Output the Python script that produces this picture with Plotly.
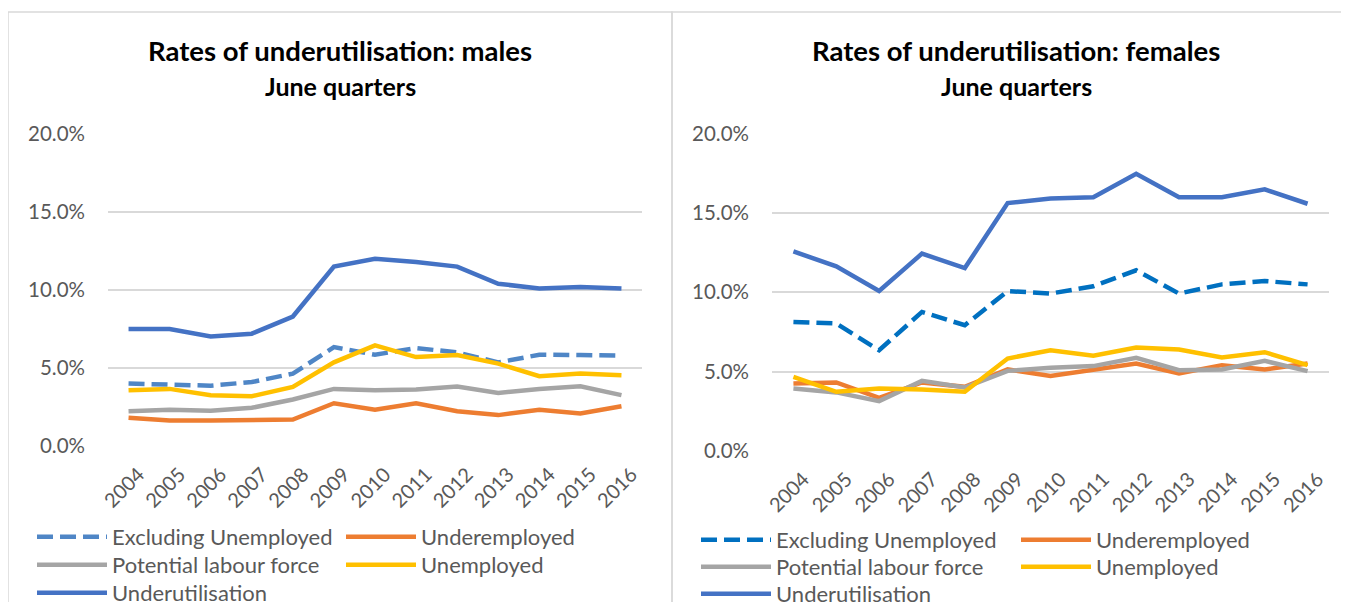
import plotly.graph_objects as go

years = [str(y) for y in range(2004, 2017)]

# Males (percent)
male_excl_unemp = [4.0, 3.94, 3.87, 4.1, 4.64, 6.34, 5.85, 6.28, 6.0, 5.36, 5.85, 5.83, 5.79]
male_underemployed = [1.81, 1.64, 1.64, 1.68, 1.7, 2.74, 2.32, 2.74, 2.23, 1.98, 2.32, 2.09, 2.55]
male_potential = [2.23, 2.32, 2.26, 2.45, 2.98, 3.66, 3.57, 3.62, 3.81, 3.4, 3.66, 3.83, 3.26]
male_unemployed = [3.57, 3.66, 3.26, 3.19, 3.79, 5.36, 6.45, 5.7, 5.83, 5.28, 4.47, 4.64, 4.53]
male_underutil = [7.5, 7.5, 7.02, 7.2, 8.3, 11.5, 12.0, 11.8, 11.5, 10.4, 10.1, 10.2, 10.1]

# Females (percent)
female_excl_unemp = [8.13, 8.03, 6.34, 8.76, 7.92, 10.08, 9.92, 10.38, 11.39, 9.92, 10.5, 10.71, 10.5]
female_underemployed = [4.24, 4.31, 3.34, 4.31, 4.03, 5.13, 4.71, 5.08, 5.5, 4.87, 5.4, 5.13, 5.5]
female_potential = [3.93, 3.68, 3.13, 4.41, 3.99, 5.04, 5.23, 5.34, 5.86, 5.08, 5.13, 5.67, 5.02]
female_unemployed = [4.66, 3.72, 3.93, 3.87, 3.72, 5.82, 6.34, 5.99, 6.51, 6.39, 5.88, 6.22, 5.4]
female_underutil = [12.58, 11.64, 10.08, 12.44, 11.53, 15.63, 15.92, 16.0, 17.48, 16.0, 16.0, 16.5, 15.59]

y_ticks = [0, 0.05, 0.10, 0.15, 0.20]

# page has an 8px body margin; figure sized to fill the rest of the window
OFF = 8
W, H = 1349 - OFF, 602 - OFF
FONT = "Lato"
TXT = "#595959"
GRID = "#D9D9D9"
LW = 4.5


def px(x):
    return (x - OFF) / W


def py(y):
    return 1 - (y - OFF) / H


fig = go.Figure()

# name, male, female, colours, dash, legend row
series = [
    ("Excluding Unemployed", male_excl_unemp, female_excl_unemp, ("#4F86C6", "#0070C0"), "16px,7px", 1),
    ("Underemployed", male_underemployed, female_underemployed, ("#ED7D31", "#ED7D31"), "solid", 1),
    ("Potential labour force", male_potential, female_potential, ("#A5A5A5", "#A5A5A5"), "solid", 2),
    ("Unemployed", male_unemployed, female_unemployed, ("#FFC000", "#FFC000"), "solid", 2),
    ("Underutilisation", male_underutil, female_underutil, ("#4472C4", "#4472C4"), "solid", 3),
]

legend_ids_m = {1: "legend", 2: "legend2", 3: "legend3"}
legend_ids_f = {1: "legend4", 2: "legend5", 3: "legend6"}

for name, m, f, cols, dash, row in series:
    fig.add_trace(go.Scatter(
        x=years, y=[v / 100 for v in m], name=name, mode="lines",
        line=dict(color=cols[0], width=LW, dash=dash),
        xaxis="x", yaxis="y", legend=legend_ids_m[row], hoverinfo="skip",
    ))
    fig.add_trace(go.Scatter(
        x=years, y=[v / 100 for v in f], name=name, mode="lines",
        line=dict(color=cols[1], width=LW, dash=dash),
        xaxis="x2", yaxis="y2", legend=legend_ids_f[row], hoverinfo="skip",
    ))

axis_common_x = dict(
    type="category", range=[-0.5, 12.5], tickangle=-45,
    showgrid=False, zeroline=False, showline=False, ticks="",
    ticklabelstandoff=12, ticklabelshift=10,
    tickfont=dict(family=FONT, size=20, color=TXT),
)
axis_common_y = dict(
    range=[0, 0.20], tickvals=y_ticks, tickformat=".1%",
    showgrid=True, gridcolor=GRID, gridwidth=1.5, zeroline=False, showline=False,
    ticks="", ticklabelstandoff=22,
    tickfont=dict(family=FONT, size=20.5, color=TXT),
)

fig.update_layout(
    width=W, height=H,
    margin=dict(l=0, r=0, t=0, b=0, autoexpand=False),
    paper_bgcolor="white", plot_bgcolor="white",
    font=dict(family=FONT, color=TXT),
    xaxis=dict(domain=[px(108), px(642)], anchor="y", **axis_common_x),
    yaxis=dict(domain=[py(446), py(134)], anchor="x", **axis_common_y),
    xaxis2=dict(domain=[px(772), px(1329)], anchor="y2", **axis_common_x),
    yaxis2=dict(domain=[py(450.7), py(133.9)], anchor="x2", **axis_common_y),
)

leg_common = dict(
    orientation="h", xanchor="left", yanchor="middle", xref="paper", yref="paper",
    bgcolor="rgba(0,0,0,0)", borderwidth=0, tracegroupgap=0, itemwidth=70,
    entrywidthmode="pixels", traceorder="normal",
    font=dict(family=FONT, size=22, color=TXT),
)
rows_m = [537, 565, 593]
rows_f = [540, 567, 594]
for i, (lid_m, lid_f) in enumerate(zip(legend_ids_m.values(), legend_ids_f.values())):
    fig.update_layout({
        lid_m: dict(x=px(32), y=py(rows_m[i]), entrywidth=224, **leg_common),
        lid_f: dict(x=px(696), y=py(rows_f[i]), entrywidth=235, **leg_common),
    })

# chart-area borders
fig.add_shape(type="rect", xref="paper", yref="paper",
              x0=px(8), x1=px(672), y0=py(660), y1=py(12),
              line=dict(color=GRID, width=1.5), fillcolor="rgba(0,0,0,0)", layer="below")
fig.add_shape(type="rect", xref="paper", yref="paper",
              x0=px(672), x1=px(1380), y0=py(660), y1=py(12),
              line=dict(color=GRID, width=1.5), fillcolor="rgba(0,0,0,0)", layer="below")

titles = [("Rates of underutilisation: males", 340), ("Rates of underutilisation: females", 1016)]
for text, cx in titles:
    fig.add_annotation(x=px(cx), y=py(50), xref="paper", yref="paper", text="<b>" + text + "</b>",
                       showarrow=False, xanchor="center", yanchor="middle",
                       font=dict(family=FONT, size=27.5, color="#000000"))
    fig.add_annotation(x=px(cx), y=py(86), xref="paper", yref="paper", text="<b>June quarters</b>",
                       showarrow=False, xanchor="center", yanchor="middle",
                       font=dict(family=FONT, size=25, color="#000000"))

fig.write_html("out.html")
